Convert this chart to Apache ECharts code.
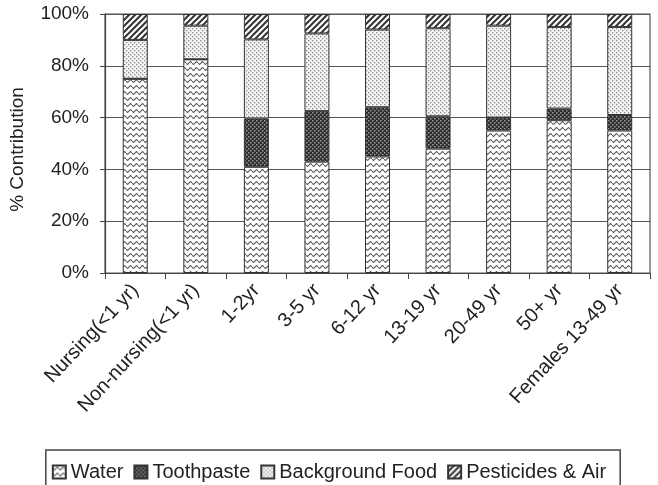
<!DOCTYPE html>
<html>
<head>
<meta charset="utf-8">
<script src="https://cdn.jsdelivr.net/npm/echarts@6/dist/echarts.min.js"></script>
<style>
  html, body { margin: 0; padding: 0; background: #fff; }
  #chart { width: 658px; height: 485px; }
</style>
</head>
<body>
<div id="chart"></div>
<script>
// data
var categories = ['Nursing(<1 yr)', 'Non-nursing(<1 yr)', '1-2yr', '3-5 yr', '6-12 yr', '13-19 yr', '20-49 yr', '50+ yr', 'Females 13-49 yr'];
var water = [75, 82.5, 41, 43, 45, 48, 55, 59, 55];
var toothpaste = [0, 0, 18.7, 19.5, 19, 12.5, 5, 4.5, 6];
var backgroundFood = [15, 13, 30.5, 30, 30, 34, 35.5, 31.5, 34];
var pesticides = [10, 4.5, 9.8, 7.5, 6, 5.5, 4.5, 5, 5];
var yTicks = [0, 20, 40, 60, 80, 100];

var FONT = '"Liberation Sans", Arial, sans-serif';

/** 花纹 */
function tile(w, h, draw) {
    var c = document.createElement('canvas');
    c.width = w;
    c.height = h;
    draw(c.getContext('2d'));
    return { image: c, repeat: 'repeat' };
}

var waterFill = tile(6, 6, function (ctx) {
    ctx.fillStyle = '#fff';
    ctx.fillRect(0, 0, 6, 6);
    ctx.strokeStyle = '#555';
    ctx.lineWidth = 1.1;
    ctx.beginPath();
    for (var x = 0; x <= 6; x += 0.5) {
        var y = 3 + 1.3 * Math.sin(x / 6 * Math.PI * 2);
        if (x === 0) ctx.moveTo(x, y); else ctx.lineTo(x, y);
    }
    ctx.stroke();
});

var toothFill = tile(4, 4, function (ctx) {
    ctx.fillStyle = '#2e2e2e';
    ctx.fillRect(0, 0, 4, 4);
    ctx.fillStyle = '#9a9a9a';
    ctx.fillRect(0, 0, 1.5, 1.5);
    ctx.fillRect(2, 2, 1.5, 1.5);
});

var foodFill = tile(4, 4, function (ctx) {
    ctx.fillStyle = '#f4f4f4';
    ctx.fillRect(0, 0, 4, 4);
    ctx.fillStyle = '#8a8a8a';
    ctx.fillRect(0, 0, 1.3, 1.3);
    ctx.fillRect(2, 2, 1.3, 1.3);
});

var pestFill = tile(6, 6, function (ctx) {
    ctx.fillStyle = '#fff';
    ctx.fillRect(0, 0, 6, 6);
    ctx.strokeStyle = '#333';
    ctx.lineWidth = 2;
    ctx.beginPath();
    ctx.moveTo(-1, 7); ctx.lineTo(7, -1);
    ctx.moveTo(-1, 1); ctx.lineTo(1, -1);
    ctx.moveTo(5, 7); ctx.lineTo(7, 5);
    ctx.stroke();
});

function barSeries(name, data, fill) {
    return {
        name: name,
        type: 'bar',
        stack: 'total',
        barWidth: 25,
        data: data,
        itemStyle: { color: fill, borderColor: '#333', borderWidth: 1 },
        emphasis: { disabled: true }
    };
}

var chart = echarts.init(document.getElementById('chart'), null, { renderer: 'canvas' });
chart.setOption({
    animation: false,
    backgroundColor: '#fff',
    textStyle: { fontFamily: FONT },
    grid: {
        left: 100, top: 14, right: 8, bottom: 212,
        show: true, borderColor: '#555', borderWidth: 1.2
    },
    legend: {
        left: 'center',
        top: 450,
        padding: [12, 14, 12, 6],
        itemGap: 10,
        itemWidth: 13,
        itemHeight: 13,
        icon: 'rect',
        borderColor: '#444',
        borderWidth: 1.5,
        textStyle: { fontSize: 20, color: '#222', fontFamily: FONT },
        data: ['Water', 'Toothpaste', 'Background Food', 'Pesticides & Air']
    },
    xAxis: {
        type: 'category',
        data: categories,
        axisLine: { lineStyle: { color: '#444', width: 1.2 } },
        axisTick: { show: true, length: 6, lineStyle: { color: '#444' } },
        axisLabel: {
            rotate: 47, fontSize: 20, color: '#222', margin: 14, interval: 0, fontFamily: FONT
        },
        splitLine: { show: false }
    },
    yAxis: {
        type: 'value',
        min: yTicks[0],
        max: yTicks[yTicks.length - 1],
        interval: 20,
        name: '% Contribution',
        nameLocation: 'middle',
        nameGap: 78,
        nameTextStyle: { fontSize: 19, color: '#222', fontFamily: FONT, padding: [0, 12, 0, 0] },
        axisLine: { show: true, lineStyle: { color: '#444', width: 1.2 } },
        axisTick: { show: true, length: 5, lineStyle: { color: '#444' } },
        axisLabel: { formatter: '{value}%', fontSize: 19, color: '#222', margin: 16, fontFamily: FONT },
        splitLine: { show: true, lineStyle: { color: '#555', width: 1.2 } }
    },
    series: [
        barSeries('Water', water, waterFill),
        barSeries('Toothpaste', toothpaste, toothFill),
        barSeries('Background Food', backgroundFood, foodFill),
        barSeries('Pesticides & Air', pesticides, pestFill)
    ]
});
</script>
</body>
</html>
